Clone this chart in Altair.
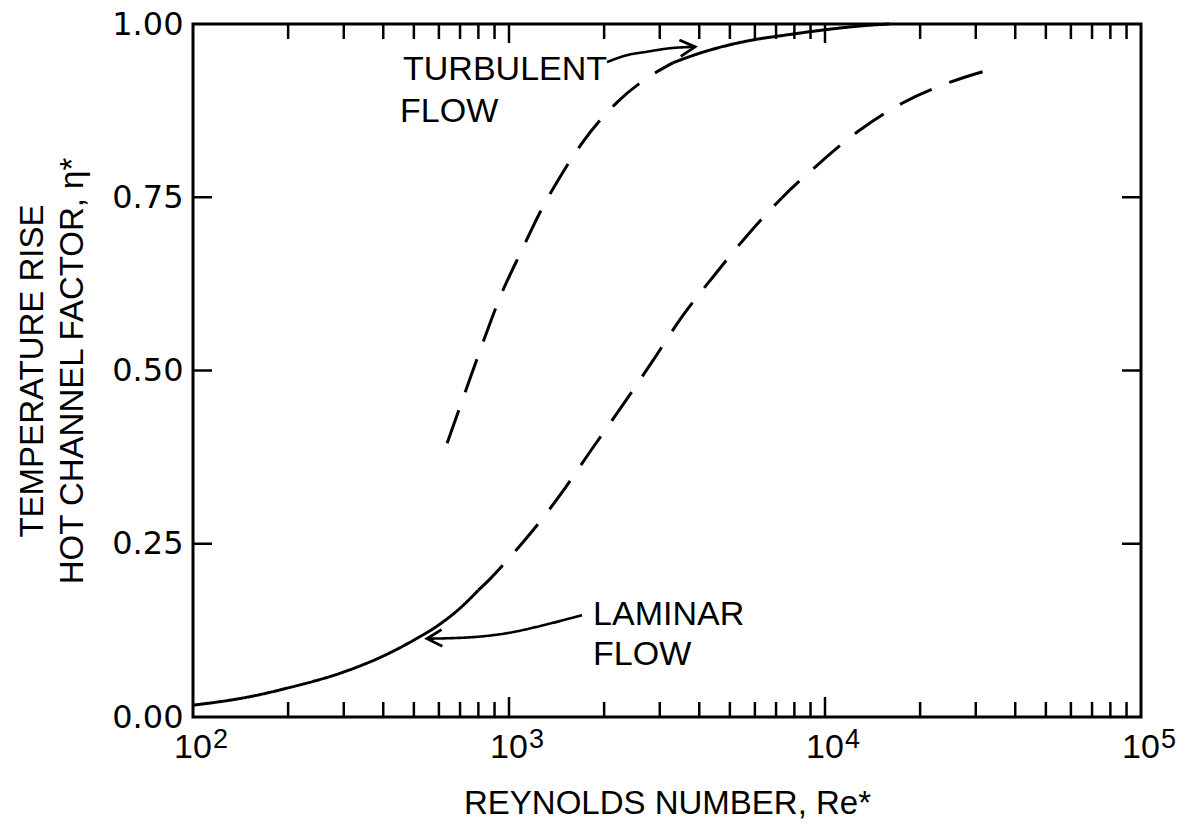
import altair as alt
import pandas as pd

# ---- data ----
lam_solid_re = [100, 150, 200, 300, 400, 500, 600, 700, 800]
lam_solid_eta = [0.017, 0.029, 0.042, 0.065, 0.088, 0.111, 0.133, 0.157, 0.183]

lam_dash_re = [800, 870, 1000, 1140, 1450, 1800, 2330, 2860, 3520, 4420, 5700, 7300, 9600, 12900, 17600, 24900, 33700]
lam_dash_eta = [0.183, 0.199, 0.229, 0.259, 0.320, 0.382, 0.455, 0.515, 0.577, 0.635, 0.696, 0.749, 0.799, 0.847, 0.886, 0.916, 0.935]

turb_dash_re = [637, 727, 822, 937, 1099, 1253, 1449, 1714, 2198, 2939, 3300]
turb_dash_eta = [0.395, 0.469, 0.537, 0.606, 0.674, 0.728, 0.779, 0.830, 0.887, 0.931, 0.944]

turb_solid_re = [3300, 4020, 5000, 5915, 7500, 10140, 13600, 16000]
turb_solid_eta = [0.944, 0.958, 0.970, 0.977, 0.984, 0.992, 0.998, 1.0]

turb_arrow_re = [2042, 2360, 2735, 3228, 3880]
turb_arrow_eta = [0.945, 0.955, 0.960, 0.965, 0.967]
lam_arrow_re = [1702, 1300, 986, 753, 550]
lam_arrow_eta = [0.147, 0.133, 0.121, 0.115, 0.113]

arrow_tip_re = [3880, 550]
arrow_tip_eta = [0.967, 0.113]
arrow_tip_angle = [355, 177]

label_text = ["TURBULENT", "FLOW", "LAMINAR", "FLOW"]
label_re = [462, 452, 1845, 1845]
label_eta = [0.919, 0.859, 0.133, 0.075]

x_major = [100, 1000, 10000, 100000]
x_exp = ["2", "3", "4", "5"]
x_minor = [200, 300, 400, 500, 600, 700, 800, 900,
           2000, 3000, 4000, 5000, 6000, 7000, 8000, 9000,
           20000, 30000, 40000, 50000, 60000, 70000, 80000, 90000]
x_inner_major = [1000, 10000]
y_ticks = [0.25, 0.5, 0.75]
y_labels = [0, 0.25, 0.5, 0.75, 1.0]

W, H = 948, 693
FONT = "Liberation Sans"
NUMFONT = "DejaVu Sans"

xs = alt.Scale(type="log", domain=[100, 100000])
ys = alt.Scale(domain=[0, 1])

X_AX = alt.Axis(
    labels=False, ticks=False, domain=False, grid=False,
    title="REYNOLDS NUMBER, Re*", titleFontSize=33, titleFontWeight="normal",
    titleBaseline="alphabetic", titlePadding=96, titleFont=FONT, titleColor="black")
Y_AX = alt.Axis(
    values=y_labels, format=".2f", labelFontSize=32, labelFont=NUMFONT, labelColor="black",
    labelPadding=10, ticks=False, domain=False, grid=False,
    title=["TEMPERATURE RISE", "HOT CHANNEL FACTOR, \u03b7*"], titleFontSize=33,
    titleFontWeight="normal", titleFont=FONT, titleColor="black", titlePadding=22,
    titleLineHeight=40)


def X(field):
    return alt.X(field, scale=xs, axis=X_AX)


def Y(field):
    return alt.Y(field, scale=ys, axis=Y_AX)


def line(re, eta, dashed, width=3.0):
    df = pd.DataFrame({"re": re, "eta": eta, "idx": range(len(re))})
    m = alt.Chart(df).mark_line(
        color="black", strokeWidth=width, interpolate="monotone",
        strokeDash=[35, 19] if dashed else [1, 0], strokeCap="butt")
    return m.encode(x=X("re:Q"), y=Y("eta:Q"), order=alt.Order("idx:Q"))


lam_s = line(lam_solid_re, lam_solid_eta, False)
lam_d = line(lam_dash_re, lam_dash_eta, True)
tur_d = line(turb_dash_re, turb_dash_eta, True)
tur_s = line(turb_solid_re, turb_solid_eta, False)
arr1 = line(turb_arrow_re, turb_arrow_eta, False, 2.6)
arr2 = line(lam_arrow_re, lam_arrow_eta, False, 2.6)

heads = alt.Chart(pd.DataFrame({"re": arrow_tip_re, "eta": arrow_tip_eta, "ang": arrow_tip_angle})).mark_point(
    shape="M-1,-0.55L0,0L-1,0.55", filled=False, color="black", strokeWidth=2.8, size=900, opacity=1,
    strokeJoin="miter").encode(
    x=X("re:Q"), y=Y("eta:Q"), angle=alt.Angle("ang:Q", scale=None))

labels = alt.Chart(pd.DataFrame({"t": label_text, "re": label_re, "eta": label_eta})).mark_text(
    align="left", baseline="alphabetic", fontSize=34, font=FONT, color="black").encode(
    x=X("re:Q"), y=Y("eta:Q"), text="t:N")

# x tick labels 10^n
xl = pd.DataFrame({"re": x_major, "b": ["10"] * 4, "e": x_exp})
xlab = alt.Chart(xl).mark_text(align="center", baseline="alphabetic", fontSize=34, font=FONT,
                               color="black").encode(
    x=X("re:Q"), y=alt.value(H + 41), text="b:N")
xexp = alt.Chart(xl).mark_text(align="left", baseline="alphabetic", fontSize=27, font=FONT,
                               color="black", dx=20).encode(
    x=X("re:Q"), y=alt.value(H + 31), text="e:N")

# inward ticks
mn = pd.DataFrame({"re": x_minor})
mj = pd.DataFrame({"re": x_inner_major})
yt = pd.DataFrame({"eta": y_ticks})
tk = dict(color="black", strokeWidth=2.5)
bot_mn = alt.Chart(mn).mark_rule(**tk).encode(x=X("re:Q"), y=alt.value(H), y2=alt.value(H - 15))
bot_mj = alt.Chart(mj).mark_rule(**tk).encode(x=X("re:Q"), y=alt.value(H), y2=alt.value(H - 20))
top_mn = alt.Chart(mn).mark_rule(**tk).encode(x=X("re:Q"), y=alt.value(0), y2=alt.value(15))
top_mj = alt.Chart(mj).mark_rule(**tk).encode(x=X("re:Q"), y=alt.value(0), y2=alt.value(19))
lef = alt.Chart(yt).mark_rule(**tk).encode(y=Y("eta:Q"), x=alt.value(0), x2=alt.value(19))
rig = alt.Chart(yt).mark_rule(**tk).encode(y=Y("eta:Q"), x=alt.value(W), x2=alt.value(W - 19))

chart = alt.layer(
    bot_mn, bot_mj, top_mn, top_mj, lef, rig,
    lam_s, lam_d, tur_d, tur_s, arr1, arr2, heads, labels, xlab, xexp
).properties(
    width=W, height=H,
    autosize=alt.AutoSizeParams(type="none"),
    padding={"left": 193, "top": 24, "right": 39, "bottom": 108},
    background="white",
).configure_view(
    stroke="black", strokeWidth=3
)

chart.save("out.html", embed_options={"renderer": "svg", "actions": False})
